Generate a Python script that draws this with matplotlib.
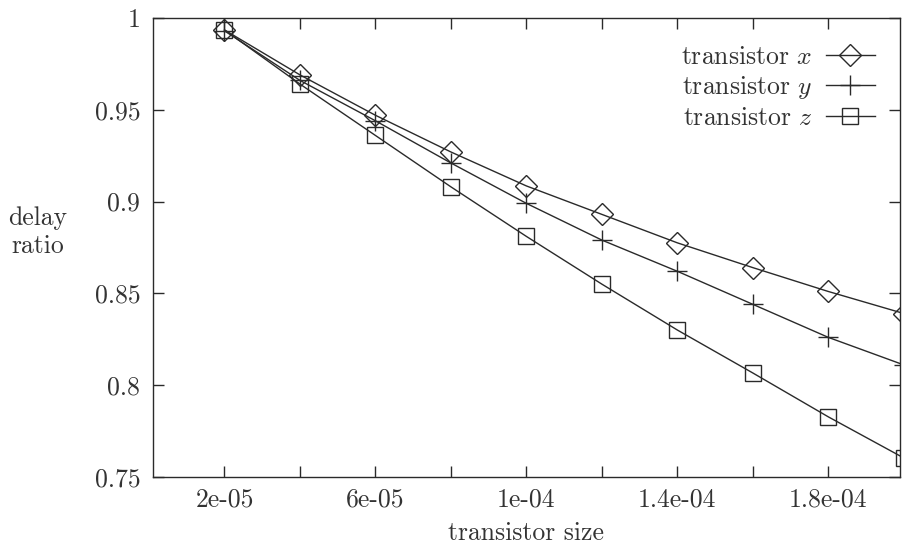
import matplotlib
matplotlib.use('Agg')
import matplotlib.pyplot as plt

# Estilo tipo gnuplot / LaTeX
plt.rcParams.update({'font.family': 'serif',
                     'font.serif': ['cmr10'],
                     'mathtext.fontset': 'cm',
                     'axes.formatter.use_mathtext': True,
                     'font.size': 18.5,
                     'axes.linewidth': 1.0})

tamano = [2e-05, 4e-05, 6e-05, 8e-05, 1e-04, 1.2e-04, 1.4e-04, 1.6e-04, 1.8e-04, 2e-04]
ratio_x = [0.9935, 0.969, 0.947, 0.927, 0.9085, 0.893, 0.8775, 0.864, 0.851, 0.839]
ratio_y = [0.993, 0.966, 0.944, 0.921, 0.899, 0.879, 0.862, 0.844, 0.826, 0.811]
ratio_z = [0.9935, 0.964, 0.936, 0.908, 0.881, 0.855, 0.830, 0.8066, 0.7827, 0.7603]

xticks = [2e-05, 4e-05, 6e-05, 8e-05, 1e-04, 1.2e-04, 1.4e-04, 1.6e-04, 1.8e-04]
xtick_labels = ['2e-05', '', '6e-05', '', '1e-04', '', '1.4e-04', '', '1.8e-04']
yticks = [0.75, 0.8, 0.85, 0.9, 0.95, 1.0]
ytick_labels = ['0.75', '0.8', '0.85', '0.9', '0.95', '1']

color = '#2a2a2a'
texto = '#333333'

fig = plt.figure(figsize=(9.04, 5.45), dpi=100)
ax = fig.add_axes([0.169, 0.125, 0.8266, 0.842])

ax.plot(tamano, ratio_x, color=color, lw=1.0, marker='D', ms=11, mfc='none',
        mec=color, mew=1.0, label='transistor $x$')
ax.plot(tamano, ratio_y, color=color, lw=1.0, marker='+', ms=15, mec=color,
        mew=1.0, label='transistor $y$')
ax.plot(tamano, ratio_z, color=color, lw=1.0, marker='s', ms=11, mfc='none',
        mec=color, mew=1.0, label='transistor $z$')

ax.set_xlim(1e-06, 1.99e-04)
ax.set_ylim(0.75, 1.0)
ax.set_xticks(xticks)
ax.set_xticklabels(xtick_labels)
ax.set_yticks(yticks)
ax.set_yticklabels(ytick_labels)
ax.tick_params(axis='y', pad=9)
ax.tick_params(axis='x', pad=8)
ax.tick_params(direction='in', length=8, width=1.0, top=True, right=True,
               colors=color, labelcolor=texto)

ax.set_xlabel('transistor size', labelpad=7, color=texto)
fig.text(0.042, 0.574, 'delay\nratio', ha='center', va='center',
         color=texto, linespacing=1.25)

for s in ax.spines.values():
    s.set_color(color)

leg = ax.legend(loc='upper right', bbox_to_anchor=(0.99, 0.98), frameon=False,
                markerfirst=False, handlelength=1.9, labelspacing=0.2,
                borderaxespad=0.3, handletextpad=0.5)
for t in leg.get_texts():
    t.set_color(texto)

fig.savefig('out.png', dpi=100)
